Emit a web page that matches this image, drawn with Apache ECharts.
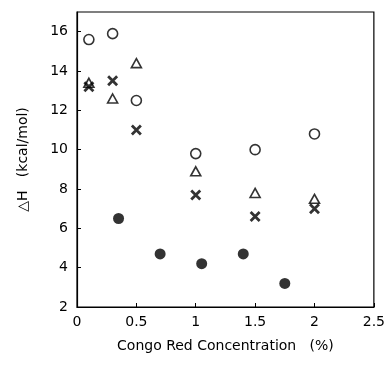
<!DOCTYPE html>
<html>
<head>
<meta charset="utf-8">
<script src="https://cdn.jsdelivr.net/npm/echarts@6/dist/echarts.min.js"></script>
<style>
  html, body { margin: 0; padding: 0; background: #fff; }
  #chart { width: 388px; height: 365px; }
</style>
</head>
<body>
<div id="chart"></div>
<script>
// data
var openCircle = [[0.1, 15.6], [0.3, 15.9], [0.5, 12.5], [1.0, 9.8], [1.5, 10.0], [2.0, 10.8]];
var triangle = [[0.1, 13.4], [0.3, 12.6], [0.5, 14.4], [1.0, 8.9], [1.5, 7.8], [2.0, 7.5]];
var cross = [[0.1, 13.2], [0.3, 13.5], [0.5, 11.0], [1.0, 7.7], [1.5, 6.6], [2.0, 7.0]];
var filled = [[0.35, 6.5], [0.7, 4.7], [1.05, 4.2], [1.4, 4.7], [1.75, 3.2]];

var font = 'DejaVu Sans, sans-serif';

var myChart = echarts.init(document.getElementById('chart'));
myChart.setOption({
  animation: false,
  grid: {
    left: 77, right: 12, top: 12, bottom: 58,
    show: true, borderColor: '#000', borderWidth: 1.2
  },
  xAxis: {
    type: 'value',
    min: 0, max: 2.5, interval: 0.5,
    name: 'Congo Red Concentration   (%)',
    nameLocation: 'middle',
    nameGap: 32,
    nameTextStyle: { color: '#000', fontSize: 14, fontFamily: font },
    axisLine: { lineStyle: { color: '#000', width: 1.2 } },
    axisTick: { inside: true, length: 4, lineStyle: { color: '#000' } },
    axisLabel: { color: '#000', fontSize: 14, fontFamily: font, margin: 8 },
    splitLine: { show: false }
  },
  yAxis: {
    type: 'value',
    min: 2, max: 17, interval: 2,
    name: '\u25B3H   (kcal/mol)',
    nameLocation: 'middle',
    nameRotate: 90,
    nameGap: 47,
    nameTextStyle: { color: '#000', fontSize: 14, fontFamily: font },
    axisLine: { lineStyle: { color: '#000', width: 1.2 } },
    axisTick: { inside: true, length: 4, lineStyle: { color: '#000' } },
    axisLabel: { color: '#000', fontSize: 14, fontFamily: font, margin: 9, showMaxLabel: false },
    splitLine: { show: false }
  },
  series: [
    {
      type: 'scatter',
      data: openCircle,
      symbol: 'circle',
      symbolSize: 10,
      itemStyle: { color: '#fff', borderColor: '#000', borderWidth: 1.6 }
    },
    {
      type: 'scatter',
      data: triangle,
      symbol: 'triangle',
      symbolSize: [10, 9],
      itemStyle: { color: '#fff', borderColor: '#000', borderWidth: 1.6 }
    },
    {
      type: 'scatter',
      data: cross,
      symbol: 'path://M0,0L10,10M10,0L0,10',
      symbolSize: 9,
      itemStyle: { color: 'none', borderColor: '#000', borderWidth: 2.8 }
    },
    {
      type: 'scatter',
      data: filled,
      symbol: 'circle',
      symbolSize: 11,
      itemStyle: { color: '#000' }
    }
  ]
});
</script>
</body>
</html>
